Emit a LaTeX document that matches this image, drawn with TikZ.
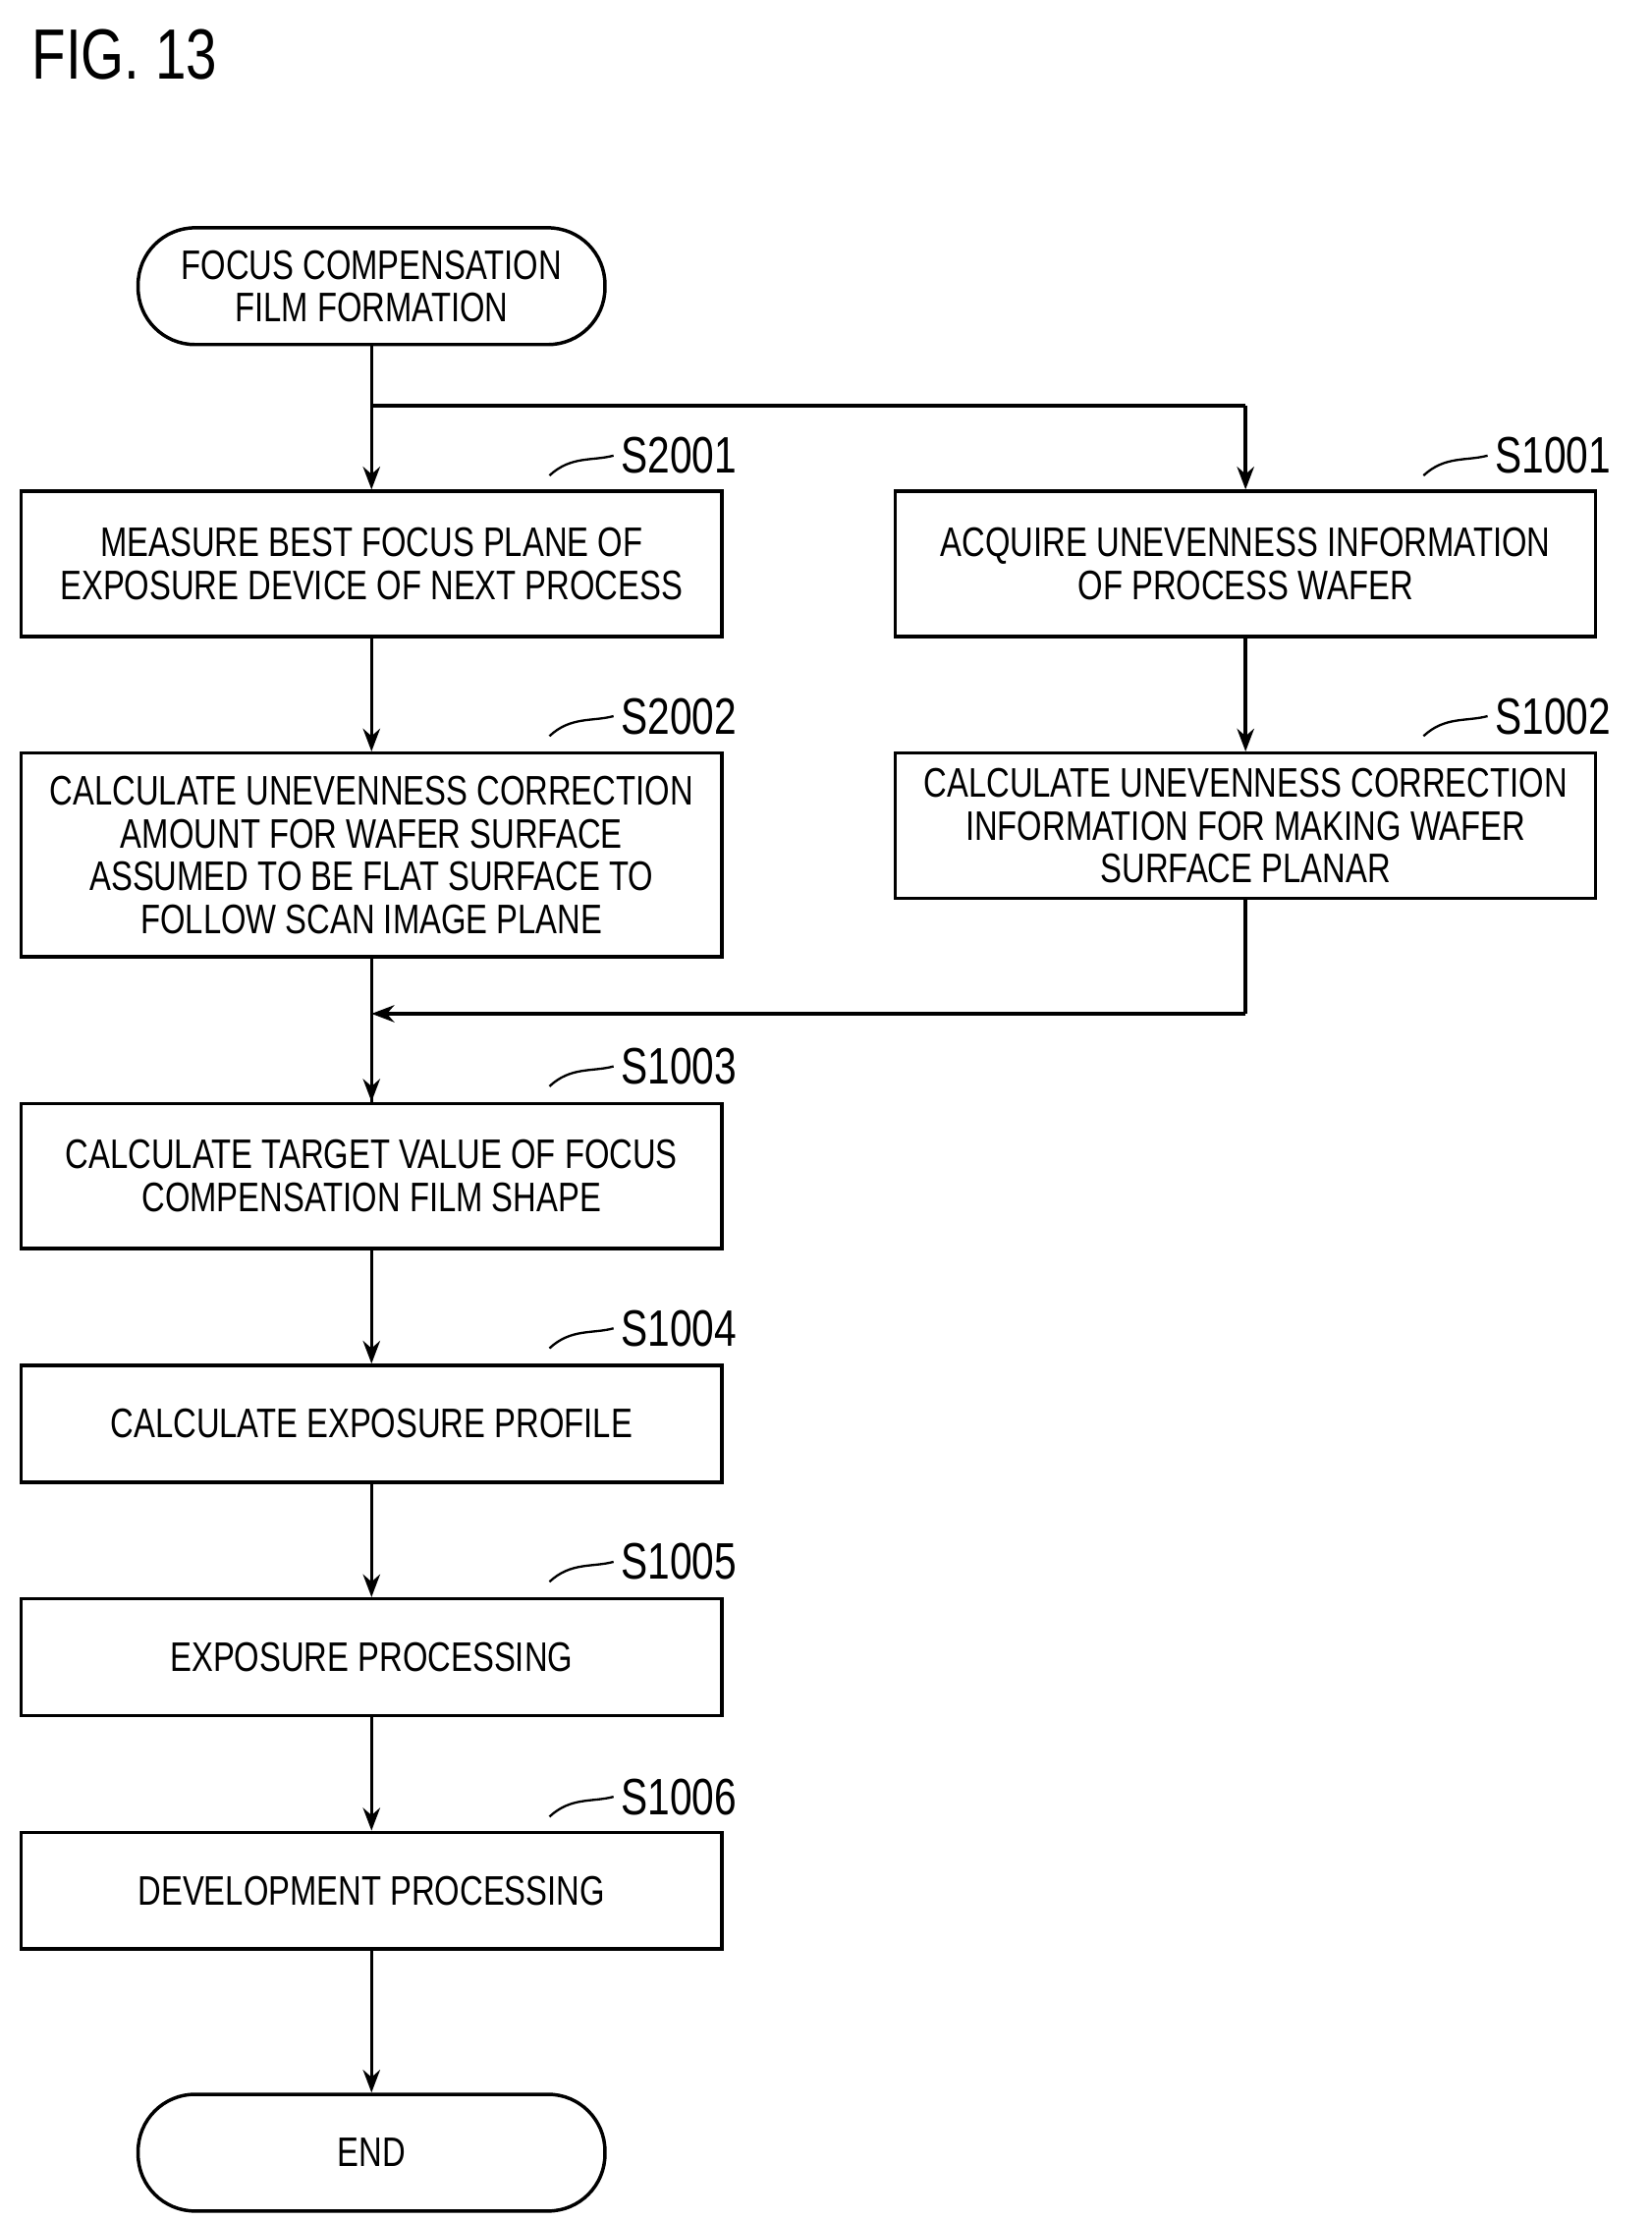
\documentclass[tikz,border=0pt]{standalone}
\usepackage{fontspec}
\setmainfont{Liberation Sans}[FakeStretch=0.78]
\usetikzlibrary{arrows.meta,calc}
\begin{document}
\begin{tikzpicture}[x=0.5pt,y=-0.5pt,
  box/.style={draw,line width=1.2pt,minimum width=246pt,align=center,font=\fontsize{14.5}{15}\selectfont,inner sep=0pt},
  term/.style={box,rounded corners=20pt,minimum width=164pt,minimum height=41pt},
  lab/.style={font=\fontsize{18}{18}\selectfont,anchor=west,inner sep=0pt},
  ar/.style={line width=1.2pt,-{Stealth[length=8pt,width=6pt]}},
  ln/.style={line width=1.2pt}]
\useasboundingbox (0,0) rectangle (1160,1560);
\node[anchor=west,font=\fontsize{25}{25}\selectfont,inner sep=0pt] (fig) at (22,38) {FIG. 13};
\node[term] (st) at (261,201) {FOCUS COMPENSATION\\FILM FORMATION};
\node[box,minimum height=51pt] (a1) at (261,396) {MEASURE BEST FOCUS PLANE OF\\EXPOSURE DEVICE OF NEXT PROCESS};
\node[box,minimum height=51pt] (b1) at (875,396) {ACQUIRE UNEVENNESS INFORMATION\\OF PROCESS WAFER};
\node[box,minimum height=71.5pt] (a2) at (261,600.5) {CALCULATE UNEVENNESS CORRECTION\\AMOUNT FOR WAFER SURFACE\\ASSUMED TO BE FLAT SURFACE TO\\FOLLOW SCAN IMAGE PLANE};
\node[box,minimum height=51pt] (b2) at (875,580) {CALCULATE UNEVENNESS CORRECTION\\INFORMATION FOR MAKING WAFER\\SURFACE PLANAR};
\node[box,minimum height=51pt] (c3) at (261,826) {CALCULATE TARGET VALUE OF FOCUS\\COMPENSATION FILM SHAPE};
\node[box,minimum height=41pt] (c4) at (261,1000) {CALCULATE EXPOSURE PROFILE};
\node[box,minimum height=41pt] (c5) at (261,1164) {EXPOSURE PROCESSING};
\node[box,minimum height=41pt] (c6) at (261,1328) {DEVELOPMENT PROCESSING};
\node[term] (en) at (261,1512) {END};
\coordinate (br) at (261,285);
\coordinate (brr) at (875,285);
\coordinate (mg) at (261,712);
\coordinate (mgr) at (875,712);
\draw[ln] (st) -- (br);
\draw[ar] (br) -- (a1);
\draw[ln] (br) -- (brr);
\draw[ar] (brr) -- (b1);
\draw[ar] (a1) -- (a2);
\draw[ar] (b1) -- (b2);
\draw[ln] (a2) -- (c3.north);
\draw[ln] (b2) -- (mgr);
\draw[ar] (mgr) -- (mg);
\draw[ar] (mg) -- (c3);
\draw[ar] (c3) -- (c4);
\draw[ar] (c4) -- (c5);
\draw[ar] (c5) -- (c6);
\draw[ar] (c6) -- (en);
\foreach \n/\t/\x/\y in {l1/S2001/436/320, l2/S1001/1050/320, l3/S2002/436/503, l4/S1002/1050/503, l5/S1003/436/749, l6/S1004/436/933, l7/S1005/436/1097, l8/S1006/436/1262}{
  \node[lab] (\n) at (\x,\y) {\t};
  \draw[line width=0.8pt] ($(\n.west)+(-50,14)$) .. controls ($(\n.west)+(-35,0)$) and ($(\n.west)+(-20,4)$) .. ($(\n.west)+(-5,0)$);
}
\end{tikzpicture}
\end{document}
